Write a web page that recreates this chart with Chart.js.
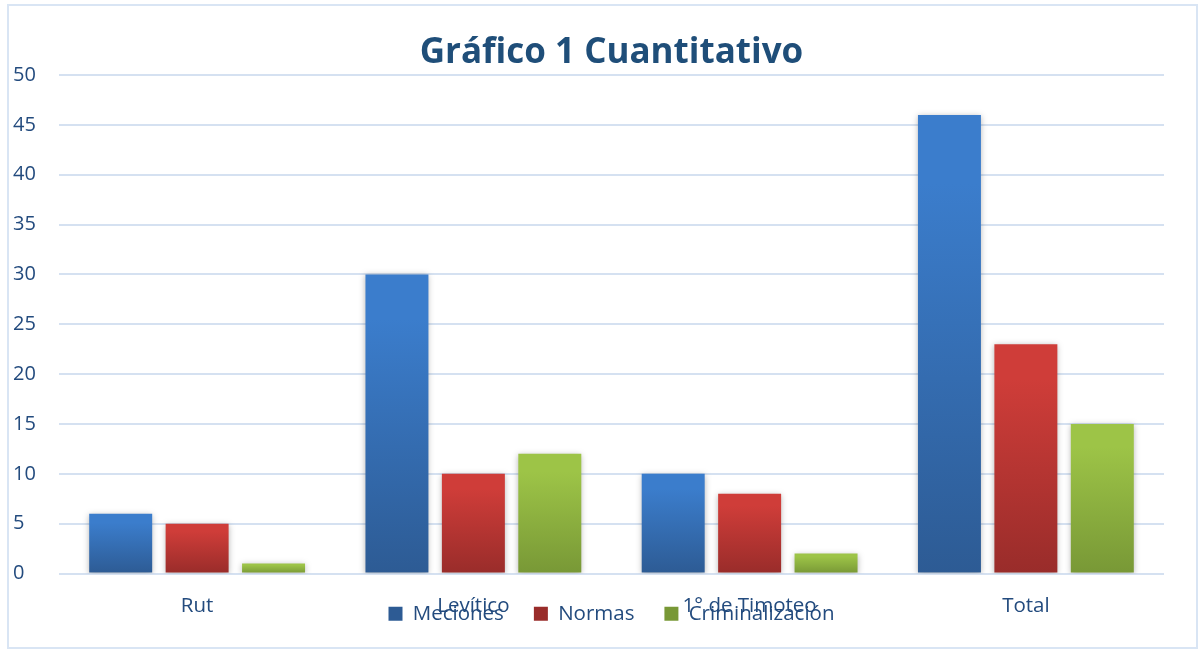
<!DOCTYPE html>
<html>
<head>
<meta charset="utf-8">
<script src="https://cdn.jsdelivr.net/npm/chart.js@4.4.1/dist/chart.umd.min.js"></script>
<style>
  html, body { margin: 0; padding: 0; background: #fff; }
  #wrap { width: 1200px; height: 651px; position: relative; }
</style>
</head>
<body>
<div id="wrap"><canvas id="chart"></canvas></div>
<script>
const categories = ['Rut', 'Levítico', '1° de Timoteo', 'Total'];
const meciones = [6, 30, 10, 46];
const normas = [5, 10, 8, 23];
const criminalizacion = [1, 12, 2, 15];
const yTicks = [0, 5, 10, 15, 20, 25, 30, 35, 40, 45, 50];

const textColor = '#234b7e';
const gridColor = '#d5e1f1';

// vertical gradient per bar, light at the top, darker at the base
function barGradient(c, top, bottom) {
  const chart = c.chart;
  const y = chart.scales && chart.scales.y;
  if (!chart.chartArea || !y || c.raw == null) return top;
  const y0 = y.getPixelForValue(c.raw);
  const y1 = y.getPixelForValue(0);
  if (!isFinite(y0) || !isFinite(y1) || y0 === y1) return top;
  const g = chart.ctx.createLinearGradient(0, y0, 0, y1);
  g.addColorStop(0, top);
  g.addColorStop(0.15, top);
  g.addColorStop(1, bottom);
  return g;
}

const framePlugin = {
  id: 'frame',
  beforeDraw(chart) {
    const ctx = chart.ctx;
    ctx.save();
    ctx.strokeStyle = '#d9e5f4';
    ctx.lineWidth = 2;
    ctx.strokeRect(8, 5, chart.width - 11, chart.height - 8);
    ctx.restore();
  }
};

const shadowPlugin = {
  id: 'barShadow',
  beforeDatasetsDraw(chart) {
    const ctx = chart.ctx;
    ctx.save();
    ctx.shadowColor = 'rgba(0,0,0,0.28)';
    ctx.shadowBlur = 6;
    ctx.shadowOffsetX = 0;
    ctx.shadowOffsetY = 1;
  },
  afterDatasetsDraw(chart) {
    chart.ctx.restore();
  }
};

new Chart(document.getElementById('chart'), {
  type: 'bar',
  data: {
    labels: categories,
    datasets: [
      {
        label: 'Meciones',
        data: meciones,
        backgroundColor: (c) => barGradient(c, '#3b7dcc', '#2d5b94'),
      },
      {
        label: 'Normas',
        data: normas,
        backgroundColor: (c) => barGradient(c, '#cf3d39', '#992c2a'),
      },
      {
        label: 'Criminalización',
        data: criminalizacion,
        backgroundColor: (c) => barGradient(c, '#9dc447', '#789836'),
      }
    ]
  },
  options: {
    responsive: true,
    maintainAspectRatio: false,
    animation: false,
    categoryPercentage: 0.83,
    barPercentage: 0.824,
    layout: { padding: { top: 8, left: 13, right: 36, bottom: 17 } },
    scales: {
      y: {
        min: 0,
        max: 50,
        afterBuildTicks: (scale) => { scale.ticks = yTicks.map(v => ({ value: v })); },
        afterFit: (scale) => { scale.width = 46; },
        border: { display: false },
        grid: { color: gridColor, lineWidth: 2, drawTicks: false },
        ticks: {
          crossAlign: 'far',
          padding: 0,
          color: textColor,
          font: { family: 'Open Sans', size: 20 }
        }
      },
      x: {
        // labels sit over the legend, as in the source image
        afterFit: (scale) => { scale.height = 0; },
        border: { display: false },
        grid: { display: false, drawTicks: false },
        ticks: {
          mirror: true,
          padding: -45,
          color: textColor,
          font: { family: 'Open Sans', size: 20.5 }
        }
      }
    },
    plugins: {
      title: {
        display: true,
        fullSize: false,
        text: 'Gráfico 1 Cuantitativo',
        color: '#1f4e79',
        font: { family: 'Open Sans', size: 35, weight: 'bold' },
        padding: { top: 24, bottom: 1 }
      },
      legend: {
        position: 'bottom',
        fullSize: false,
        labels: {
          boxWidth: 14,
          boxHeight: 14,
          padding: 30,
          color: textColor,
          font: { family: 'Open Sans', size: 20.5 }
        }
      },
      tooltip: { enabled: false }
    }
  },
  plugins: [framePlugin, shadowPlugin]
});
</script>
</body>
</html>
